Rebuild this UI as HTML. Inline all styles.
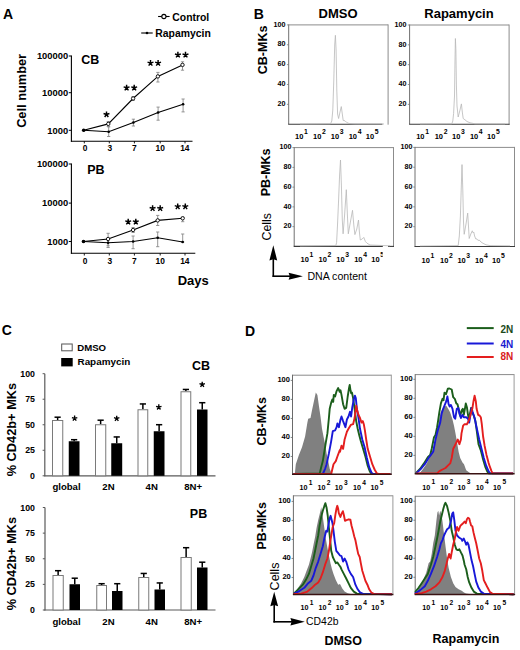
<!DOCTYPE html>
<html><head><meta charset="utf-8"><style>
html,body{margin:0;padding:0;background:#fff;width:520px;height:650px;overflow:hidden}
svg{display:block}
text{font-family:"Liberation Sans",sans-serif}
</style></head><body>
<svg width="520" height="650" viewBox="0 0 520 650">
<rect width="520" height="650" fill="#fff"/>
<text x="3" y="19" font-size="14" font-weight="bold" text-anchor="start" fill="#000" >A</text>
<text x="253.7" y="19.4" font-size="14" font-weight="bold" text-anchor="start" fill="#000" >B</text>
<text x="1.8" y="334.5" font-size="14" font-weight="bold" text-anchor="start" fill="#000" >C</text>
<text x="245" y="336.3" font-size="14" font-weight="bold" text-anchor="start" fill="#000" >D</text>
<line x1="71.4" y1="55.4" x2="71.4" y2="141.7" stroke="#000" stroke-width="1.1"/>
<line x1="70.9" y1="141.2" x2="192.5" y2="141.2" stroke="#000" stroke-width="1.1"/>
<line x1="68.80000000000001" y1="56.0" x2="71.4" y2="56.0" stroke="#000" stroke-width="1"/>
<text x="68.2" y="59.3" font-size="9.4" font-weight="bold" text-anchor="end" fill="#000" >100000</text>
<line x1="68.80000000000001" y1="92.7" x2="71.4" y2="92.7" stroke="#000" stroke-width="1"/>
<text x="68.2" y="96.0" font-size="9.4" font-weight="bold" text-anchor="end" fill="#000" >10000</text>
<line x1="68.80000000000001" y1="130.3" x2="71.4" y2="130.3" stroke="#000" stroke-width="1"/>
<text x="68.2" y="133.60000000000002" font-size="9.4" font-weight="bold" text-anchor="end" fill="#000" >1000</text>
<line x1="84.3" y1="141.2" x2="84.3" y2="143.39999999999998" stroke="#000" stroke-width="0.9"/>
<line x1="109.3" y1="141.2" x2="109.3" y2="143.39999999999998" stroke="#000" stroke-width="0.9"/>
<line x1="134.4" y1="141.2" x2="134.4" y2="143.39999999999998" stroke="#000" stroke-width="0.9"/>
<line x1="160.2" y1="141.2" x2="160.2" y2="143.39999999999998" stroke="#000" stroke-width="0.9"/>
<line x1="185.0" y1="141.2" x2="185.0" y2="143.39999999999998" stroke="#000" stroke-width="0.9"/>
<text x="85" y="151.4" font-size="8.4" font-weight="bold" text-anchor="middle" fill="#000" >0</text>
<text x="109.8" y="151.4" font-size="8.4" font-weight="bold" text-anchor="middle" fill="#000" >3</text>
<text x="134.4" y="151.4" font-size="8.4" font-weight="bold" text-anchor="middle" fill="#000" >7</text>
<text x="160.2" y="151.4" font-size="8.4" font-weight="bold" text-anchor="middle" fill="#000" >10</text>
<text x="184.8" y="151.4" font-size="8.4" font-weight="bold" text-anchor="middle" fill="#000" >14</text>
<text x="81.2" y="63.7" font-size="12.5" font-weight="bold" text-anchor="start" fill="#000" >CB</text>
<line x1="108.3" y1="121.5" x2="108.3" y2="126.5" stroke="#8a8a8a" stroke-width="0.9"/>
<line x1="106.7" y1="121.5" x2="109.89999999999999" y2="121.5" stroke="#8a8a8a" stroke-width="0.9"/>
<line x1="106.7" y1="126.5" x2="109.89999999999999" y2="126.5" stroke="#8a8a8a" stroke-width="0.9"/>
<line x1="133.1" y1="96.5" x2="133.1" y2="100.5" stroke="#8a8a8a" stroke-width="0.9"/>
<line x1="131.5" y1="96.5" x2="134.7" y2="96.5" stroke="#8a8a8a" stroke-width="0.9"/>
<line x1="131.5" y1="100.5" x2="134.7" y2="100.5" stroke="#8a8a8a" stroke-width="0.9"/>
<line x1="157.9" y1="72.4" x2="157.9" y2="82" stroke="#8a8a8a" stroke-width="0.9"/>
<line x1="156.3" y1="72.4" x2="159.5" y2="72.4" stroke="#8a8a8a" stroke-width="0.9"/>
<line x1="156.3" y1="82" x2="159.5" y2="82" stroke="#8a8a8a" stroke-width="0.9"/>
<line x1="182.5" y1="61.8" x2="182.5" y2="70.2" stroke="#8a8a8a" stroke-width="0.9"/>
<line x1="180.9" y1="61.8" x2="184.1" y2="61.8" stroke="#8a8a8a" stroke-width="0.9"/>
<line x1="180.9" y1="70.2" x2="184.1" y2="70.2" stroke="#8a8a8a" stroke-width="0.9"/>
<line x1="108.7" y1="126.9" x2="108.7" y2="136.5" stroke="#8a8a8a" stroke-width="0.9"/>
<line x1="107.10000000000001" y1="126.9" x2="110.3" y2="126.9" stroke="#8a8a8a" stroke-width="0.9"/>
<line x1="107.10000000000001" y1="136.5" x2="110.3" y2="136.5" stroke="#8a8a8a" stroke-width="0.9"/>
<line x1="133.4" y1="119.2" x2="133.4" y2="126" stroke="#8a8a8a" stroke-width="0.9"/>
<line x1="131.8" y1="119.2" x2="135.0" y2="119.2" stroke="#8a8a8a" stroke-width="0.9"/>
<line x1="131.8" y1="126" x2="135.0" y2="126" stroke="#8a8a8a" stroke-width="0.9"/>
<line x1="158.1" y1="107.1" x2="158.1" y2="120.2" stroke="#8a8a8a" stroke-width="0.9"/>
<line x1="156.5" y1="107.1" x2="159.7" y2="107.1" stroke="#8a8a8a" stroke-width="0.9"/>
<line x1="156.5" y1="120.2" x2="159.7" y2="120.2" stroke="#8a8a8a" stroke-width="0.9"/>
<line x1="183.1" y1="99" x2="183.1" y2="111.9" stroke="#8a8a8a" stroke-width="0.9"/>
<line x1="181.5" y1="99" x2="184.7" y2="99" stroke="#8a8a8a" stroke-width="0.9"/>
<line x1="181.5" y1="111.9" x2="184.7" y2="111.9" stroke="#8a8a8a" stroke-width="0.9"/>
<polyline points="83.70,130.20 108.70,131.70 133.40,122.50 158.10,112.50 183.10,104.20" fill="none" stroke="#000" stroke-width="1.1" />
<polyline points="83.70,130.20 108.30,123.90 133.10,98.50 157.90,76.40 182.50,64.90" fill="none" stroke="#000" stroke-width="1.1" />
<circle cx="83.7" cy="130.2" r="1.3" fill="#000"/>
<circle cx="108.7" cy="131.7" r="1.3" fill="#000"/>
<circle cx="133.4" cy="122.5" r="1.3" fill="#000"/>
<circle cx="158.1" cy="112.5" r="1.3" fill="#000"/>
<circle cx="183.1" cy="104.2" r="1.3" fill="#000"/>
<circle cx="108.3" cy="123.9" r="1.7" fill="#fff" stroke="#000" stroke-width="0.9"/>
<circle cx="133.1" cy="98.5" r="1.7" fill="#fff" stroke="#000" stroke-width="0.9"/>
<circle cx="157.9" cy="76.4" r="1.7" fill="#fff" stroke="#000" stroke-width="0.9"/>
<circle cx="182.5" cy="64.9" r="1.7" fill="#fff" stroke="#000" stroke-width="0.9"/>
<circle cx="83.7" cy="130.2" r="1.8" fill="#000"/>
<path d="M106.50,114.50 l0.00,-3.10 M106.50,114.50 l2.95,-0.96 M106.50,114.50 l1.82,2.51 M106.50,114.50 l-1.82,2.51 M106.50,114.50 l-2.95,-0.96" stroke="#000" stroke-width="1.45" fill="none"/>
<path d="M126.60,87.80 l0.00,-3.10 M126.60,87.80 l2.95,-0.96 M126.60,87.80 l1.82,2.51 M126.60,87.80 l-1.82,2.51 M126.60,87.80 l-2.95,-0.96" stroke="#000" stroke-width="1.45" fill="none"/>
<path d="M134.20,87.80 l0.00,-3.10 M134.20,87.80 l2.95,-0.96 M134.20,87.80 l1.82,2.51 M134.20,87.80 l-1.82,2.51 M134.20,87.80 l-2.95,-0.96" stroke="#000" stroke-width="1.45" fill="none"/>
<path d="M150.50,63.10 l0.00,-3.10 M150.50,63.10 l2.95,-0.96 M150.50,63.10 l1.82,2.51 M150.50,63.10 l-1.82,2.51 M150.50,63.10 l-2.95,-0.96" stroke="#000" stroke-width="1.45" fill="none"/>
<path d="M158.10,63.10 l0.00,-3.10 M158.10,63.10 l2.95,-0.96 M158.10,63.10 l1.82,2.51 M158.10,63.10 l-1.82,2.51 M158.10,63.10 l-2.95,-0.96" stroke="#000" stroke-width="1.45" fill="none"/>
<path d="M177.90,54.90 l0.00,-3.10 M177.90,54.90 l2.95,-0.96 M177.90,54.90 l1.82,2.51 M177.90,54.90 l-1.82,2.51 M177.90,54.90 l-2.95,-0.96" stroke="#000" stroke-width="1.45" fill="none"/>
<path d="M185.50,54.90 l0.00,-3.10 M185.50,54.90 l2.95,-0.96 M185.50,54.90 l1.82,2.51 M185.50,54.90 l-1.82,2.51 M185.50,54.90 l-2.95,-0.96" stroke="#000" stroke-width="1.45" fill="none"/>
<line x1="71.4" y1="163.5" x2="71.4" y2="253.8" stroke="#000" stroke-width="1.1"/>
<line x1="70.9" y1="253.3" x2="195.3" y2="253.3" stroke="#000" stroke-width="1.1"/>
<line x1="68.80000000000001" y1="164.0" x2="71.4" y2="164.0" stroke="#000" stroke-width="1"/>
<text x="68.2" y="167.3" font-size="9.4" font-weight="bold" text-anchor="end" fill="#000" >100000</text>
<line x1="68.80000000000001" y1="203.1" x2="71.4" y2="203.1" stroke="#000" stroke-width="1"/>
<text x="68.2" y="206.4" font-size="9.4" font-weight="bold" text-anchor="end" fill="#000" >10000</text>
<line x1="68.80000000000001" y1="241.5" x2="71.4" y2="241.5" stroke="#000" stroke-width="1"/>
<text x="68.2" y="244.8" font-size="9.4" font-weight="bold" text-anchor="end" fill="#000" >1000</text>
<line x1="84.3" y1="253.3" x2="84.3" y2="255.5" stroke="#000" stroke-width="0.9"/>
<line x1="109.3" y1="253.3" x2="109.3" y2="255.5" stroke="#000" stroke-width="0.9"/>
<line x1="134.4" y1="253.3" x2="134.4" y2="255.5" stroke="#000" stroke-width="0.9"/>
<line x1="160.2" y1="253.3" x2="160.2" y2="255.5" stroke="#000" stroke-width="0.9"/>
<line x1="185.0" y1="253.3" x2="185.0" y2="255.5" stroke="#000" stroke-width="0.9"/>
<text x="85" y="263.8" font-size="8.4" font-weight="bold" text-anchor="middle" fill="#000" >0</text>
<text x="109.8" y="263.8" font-size="8.4" font-weight="bold" text-anchor="middle" fill="#000" >3</text>
<text x="134.4" y="263.8" font-size="8.4" font-weight="bold" text-anchor="middle" fill="#000" >7</text>
<text x="160.2" y="263.8" font-size="8.4" font-weight="bold" text-anchor="middle" fill="#000" >10</text>
<text x="184.8" y="263.8" font-size="8.4" font-weight="bold" text-anchor="middle" fill="#000" >14</text>
<text x="87.2" y="173.7" font-size="12.5" font-weight="bold" text-anchor="start" fill="#000" >PB</text>
<line x1="108.1" y1="233.3" x2="108.1" y2="245.8" stroke="#8a8a8a" stroke-width="0.9"/>
<line x1="106.5" y1="233.3" x2="109.69999999999999" y2="233.3" stroke="#8a8a8a" stroke-width="0.9"/>
<line x1="106.5" y1="245.8" x2="109.69999999999999" y2="245.8" stroke="#8a8a8a" stroke-width="0.9"/>
<line x1="133.1" y1="227.5" x2="133.1" y2="232.5" stroke="#8a8a8a" stroke-width="0.9"/>
<line x1="131.5" y1="227.5" x2="134.7" y2="227.5" stroke="#8a8a8a" stroke-width="0.9"/>
<line x1="131.5" y1="232.5" x2="134.7" y2="232.5" stroke="#8a8a8a" stroke-width="0.9"/>
<line x1="157.7" y1="215.4" x2="157.7" y2="225.5" stroke="#8a8a8a" stroke-width="0.9"/>
<line x1="156.1" y1="215.4" x2="159.29999999999998" y2="215.4" stroke="#8a8a8a" stroke-width="0.9"/>
<line x1="156.1" y1="225.5" x2="159.29999999999998" y2="225.5" stroke="#8a8a8a" stroke-width="0.9"/>
<line x1="182.7" y1="217" x2="182.7" y2="221.7" stroke="#8a8a8a" stroke-width="0.9"/>
<line x1="181.1" y1="217" x2="184.29999999999998" y2="217" stroke="#8a8a8a" stroke-width="0.9"/>
<line x1="181.1" y1="221.7" x2="184.29999999999998" y2="221.7" stroke="#8a8a8a" stroke-width="0.9"/>
<line x1="108.1" y1="238.5" x2="108.1" y2="247.5" stroke="#8a8a8a" stroke-width="0.9"/>
<line x1="106.5" y1="238.5" x2="109.69999999999999" y2="238.5" stroke="#8a8a8a" stroke-width="0.9"/>
<line x1="106.5" y1="247.5" x2="109.69999999999999" y2="247.5" stroke="#8a8a8a" stroke-width="0.9"/>
<line x1="133.1" y1="236" x2="133.1" y2="248.7" stroke="#8a8a8a" stroke-width="0.9"/>
<line x1="131.5" y1="236" x2="134.7" y2="236" stroke="#8a8a8a" stroke-width="0.9"/>
<line x1="131.5" y1="248.7" x2="134.7" y2="248.7" stroke="#8a8a8a" stroke-width="0.9"/>
<line x1="157.7" y1="232" x2="157.7" y2="246.7" stroke="#8a8a8a" stroke-width="0.9"/>
<line x1="156.1" y1="232" x2="159.29999999999998" y2="232" stroke="#8a8a8a" stroke-width="0.9"/>
<line x1="156.1" y1="246.7" x2="159.29999999999998" y2="246.7" stroke="#8a8a8a" stroke-width="0.9"/>
<line x1="182.7" y1="234" x2="182.7" y2="242" stroke="#8a8a8a" stroke-width="0.9"/>
<line x1="181.1" y1="234" x2="184.29999999999998" y2="234" stroke="#8a8a8a" stroke-width="0.9"/>
<line x1="181.1" y1="242" x2="184.29999999999998" y2="242" stroke="#8a8a8a" stroke-width="0.9"/>
<polyline points="83.50,241.50 108.10,242.70 133.10,241.50 157.70,237.70 182.70,242.00" fill="none" stroke="#000" stroke-width="1.1" />
<polyline points="83.50,241.50 108.10,239.00 133.10,230.00 157.70,220.40 182.70,218.30" fill="none" stroke="#000" stroke-width="1.1" />
<circle cx="83.5" cy="241.5" r="1.3" fill="#000"/>
<circle cx="108.1" cy="242.7" r="1.3" fill="#000"/>
<circle cx="133.1" cy="241.5" r="1.3" fill="#000"/>
<circle cx="157.7" cy="237.7" r="1.3" fill="#000"/>
<circle cx="182.7" cy="242.0" r="1.3" fill="#000"/>
<circle cx="108.1" cy="239.0" r="1.7" fill="#fff" stroke="#000" stroke-width="0.9"/>
<circle cx="133.1" cy="230.0" r="1.7" fill="#fff" stroke="#000" stroke-width="0.9"/>
<circle cx="157.7" cy="220.4" r="1.7" fill="#fff" stroke="#000" stroke-width="0.9"/>
<circle cx="182.7" cy="218.3" r="1.7" fill="#fff" stroke="#000" stroke-width="0.9"/>
<circle cx="83.5" cy="241.5" r="1.8" fill="#000"/>
<path d="M128.20,221.80 l0.00,-3.10 M128.20,221.80 l2.95,-0.96 M128.20,221.80 l1.82,2.51 M128.20,221.80 l-1.82,2.51 M128.20,221.80 l-2.95,-0.96" stroke="#000" stroke-width="1.45" fill="none"/>
<path d="M135.80,221.80 l0.00,-3.10 M135.80,221.80 l2.95,-0.96 M135.80,221.80 l1.82,2.51 M135.80,221.80 l-1.82,2.51 M135.80,221.80 l-2.95,-0.96" stroke="#000" stroke-width="1.45" fill="none"/>
<path d="M152.60,208.40 l0.00,-3.10 M152.60,208.40 l2.95,-0.96 M152.60,208.40 l1.82,2.51 M152.60,208.40 l-1.82,2.51 M152.60,208.40 l-2.95,-0.96" stroke="#000" stroke-width="1.45" fill="none"/>
<path d="M160.20,208.40 l0.00,-3.10 M160.20,208.40 l2.95,-0.96 M160.20,208.40 l1.82,2.51 M160.20,208.40 l-1.82,2.51 M160.20,208.40 l-2.95,-0.96" stroke="#000" stroke-width="1.45" fill="none"/>
<path d="M177.70,206.60 l0.00,-3.10 M177.70,206.60 l2.95,-0.96 M177.70,206.60 l1.82,2.51 M177.70,206.60 l-1.82,2.51 M177.70,206.60 l-2.95,-0.96" stroke="#000" stroke-width="1.45" fill="none"/>
<path d="M185.30,206.60 l0.00,-3.10 M185.30,206.60 l2.95,-0.96 M185.30,206.60 l1.82,2.51 M185.30,206.60 l-1.82,2.51 M185.30,206.60 l-2.95,-0.96" stroke="#000" stroke-width="1.45" fill="none"/>
<text transform="translate(25.6,90.9) rotate(-90)" font-size="12.8" font-weight="bold" text-anchor="middle" fill="#000" >Cell number</text>
<text x="177.7" y="284.9" font-size="13" font-weight="bold" text-anchor="start" fill="#000" >Days</text>
<line x1="158.1" y1="16.5" x2="169.6" y2="16.5" stroke="#000" stroke-width="1.1"/>
<circle cx="163.9" cy="16.5" r="2.1" fill="#fff" stroke="#000" stroke-width="1.1"/>
<text x="172.3" y="20.6" font-size="10.4" font-weight="bold" text-anchor="start" fill="#000" >Control</text>
<line x1="141.2" y1="33" x2="152.7" y2="33" stroke="#000" stroke-width="1.1"/>
<circle cx="147" cy="33" r="1.3" fill="#000"/>
<text x="155.3" y="36.9" font-size="10.4" font-weight="bold" text-anchor="start" fill="#000" >Rapamycin</text>
<line x1="288.7" y1="24.9" x2="388.1" y2="24.9" stroke="#8c8c8c" stroke-width="1"/>
<line x1="388.1" y1="24.4" x2="388.1" y2="124.7" stroke="#8c8c8c" stroke-width="1"/>
<line x1="288.7" y1="24.4" x2="288.7" y2="124.2" stroke="#707070" stroke-width="1"/>
<line x1="288.2" y1="124.2" x2="382.4" y2="124.2" stroke="#3a3a3a" stroke-width="1.1"/>
<line x1="286.9" y1="24.89999999999999" x2="288.7" y2="24.89999999999999" stroke="#7a7a7a" stroke-width="0.8"/>
<text x="285.4" y="26.59999999999999" font-size="7.2" font-weight="bold" text-anchor="end" fill="#000" >100</text>
<line x1="286.9" y1="44.75999999999999" x2="288.7" y2="44.75999999999999" stroke="#7a7a7a" stroke-width="0.8"/>
<text x="285.4" y="46.459999999999994" font-size="7.2" font-weight="bold" text-anchor="end" fill="#000" >80</text>
<line x1="286.9" y1="64.61999999999999" x2="288.7" y2="64.61999999999999" stroke="#7a7a7a" stroke-width="0.8"/>
<text x="285.4" y="66.32" font-size="7.2" font-weight="bold" text-anchor="end" fill="#000" >60</text>
<line x1="286.9" y1="84.47999999999999" x2="288.7" y2="84.47999999999999" stroke="#7a7a7a" stroke-width="0.8"/>
<text x="285.4" y="86.17999999999999" font-size="7.2" font-weight="bold" text-anchor="end" fill="#000" >40</text>
<line x1="286.9" y1="104.34" x2="288.7" y2="104.34" stroke="#7a7a7a" stroke-width="0.8"/>
<text x="285.4" y="106.04" font-size="7.2" font-weight="bold" text-anchor="end" fill="#000" >20</text>
<text x="295.0" y="139.2" font-size="7.5" font-weight="bold" text-anchor="start" fill="#000" >10</text>
<text x="303.94" y="134.2" font-size="6.8" font-weight="bold" text-anchor="start" fill="#000" >1</text>
<text x="313.0" y="139.2" font-size="7.5" font-weight="bold" text-anchor="start" fill="#000" >10</text>
<text x="321.94" y="134.2" font-size="6.8" font-weight="bold" text-anchor="start" fill="#000" >2</text>
<text x="330.8" y="139.2" font-size="7.5" font-weight="bold" text-anchor="start" fill="#000" >10</text>
<text x="339.74" y="134.2" font-size="6.8" font-weight="bold" text-anchor="start" fill="#000" >3</text>
<text x="348.7" y="139.2" font-size="7.5" font-weight="bold" text-anchor="start" fill="#000" >10</text>
<text x="357.64" y="134.2" font-size="6.8" font-weight="bold" text-anchor="start" fill="#000" >4</text>
<text x="365.79999999999995" y="139.2" font-size="7.5" font-weight="bold" text-anchor="start" fill="#000" >10</text>
<text x="374.73999999999995" y="134.2" font-size="6.8" font-weight="bold" text-anchor="start" fill="#000" >5</text>
<line x1="409.6" y1="25.0" x2="509.1" y2="25.0" stroke="#8c8c8c" stroke-width="1"/>
<line x1="509.1" y1="24.5" x2="509.1" y2="124.7" stroke="#8c8c8c" stroke-width="1"/>
<line x1="409.6" y1="24.5" x2="409.6" y2="124.2" stroke="#707070" stroke-width="1"/>
<line x1="409.1" y1="124.2" x2="509.6" y2="124.2" stroke="#3a3a3a" stroke-width="1.1"/>
<line x1="407.8" y1="25.0" x2="409.6" y2="25.0" stroke="#7a7a7a" stroke-width="0.8"/>
<text x="406.4" y="26.7" font-size="7.2" font-weight="bold" text-anchor="end" fill="#000" >100</text>
<line x1="407.8" y1="44.84" x2="409.6" y2="44.84" stroke="#7a7a7a" stroke-width="0.8"/>
<text x="406.4" y="46.540000000000006" font-size="7.2" font-weight="bold" text-anchor="end" fill="#000" >80</text>
<line x1="407.8" y1="64.68" x2="409.6" y2="64.68" stroke="#7a7a7a" stroke-width="0.8"/>
<text x="406.4" y="66.38000000000001" font-size="7.2" font-weight="bold" text-anchor="end" fill="#000" >60</text>
<line x1="407.8" y1="84.52000000000001" x2="409.6" y2="84.52000000000001" stroke="#7a7a7a" stroke-width="0.8"/>
<text x="406.4" y="86.22000000000001" font-size="7.2" font-weight="bold" text-anchor="end" fill="#000" >40</text>
<line x1="407.8" y1="104.36" x2="409.6" y2="104.36" stroke="#7a7a7a" stroke-width="0.8"/>
<text x="406.4" y="106.06" font-size="7.2" font-weight="bold" text-anchor="end" fill="#000" >20</text>
<text x="416.20000000000005" y="139.2" font-size="7.5" font-weight="bold" text-anchor="start" fill="#000" >10</text>
<text x="425.14000000000004" y="134.2" font-size="6.8" font-weight="bold" text-anchor="start" fill="#000" >1</text>
<text x="434.70000000000005" y="139.2" font-size="7.5" font-weight="bold" text-anchor="start" fill="#000" >10</text>
<text x="443.64000000000004" y="134.2" font-size="6.8" font-weight="bold" text-anchor="start" fill="#000" >2</text>
<text x="452.0" y="139.2" font-size="7.5" font-weight="bold" text-anchor="start" fill="#000" >10</text>
<text x="460.94" y="134.2" font-size="6.8" font-weight="bold" text-anchor="start" fill="#000" >3</text>
<text x="469.90000000000003" y="139.2" font-size="7.5" font-weight="bold" text-anchor="start" fill="#000" >10</text>
<text x="478.84000000000003" y="134.2" font-size="6.8" font-weight="bold" text-anchor="start" fill="#000" >4</text>
<text x="487.0" y="139.2" font-size="7.5" font-weight="bold" text-anchor="start" fill="#000" >10</text>
<text x="495.94" y="134.2" font-size="6.8" font-weight="bold" text-anchor="start" fill="#000" >5</text>
<line x1="294.2" y1="147.6" x2="393.5" y2="147.6" stroke="#8c8c8c" stroke-width="1"/>
<line x1="393.5" y1="147.1" x2="393.5" y2="246.9" stroke="#8c8c8c" stroke-width="1"/>
<line x1="294.2" y1="147.1" x2="294.2" y2="246.4" stroke="#707070" stroke-width="1"/>
<line x1="293.7" y1="246.4" x2="382.8" y2="246.4" stroke="#3a3a3a" stroke-width="1.1"/>
<line x1="388" y1="246.4" x2="394" y2="246.4" stroke="#3a3a3a" stroke-width="1.1"/>
<line x1="292.4" y1="147.6" x2="294.2" y2="147.6" stroke="#7a7a7a" stroke-width="0.8"/>
<text x="291.4" y="149.29999999999998" font-size="7.2" font-weight="bold" text-anchor="end" fill="#000" >100</text>
<line x1="292.4" y1="167.36" x2="294.2" y2="167.36" stroke="#7a7a7a" stroke-width="0.8"/>
<text x="291.4" y="169.06" font-size="7.2" font-weight="bold" text-anchor="end" fill="#000" >80</text>
<line x1="292.4" y1="187.12" x2="294.2" y2="187.12" stroke="#7a7a7a" stroke-width="0.8"/>
<text x="291.4" y="188.82" font-size="7.2" font-weight="bold" text-anchor="end" fill="#000" >60</text>
<line x1="292.4" y1="206.88" x2="294.2" y2="206.88" stroke="#7a7a7a" stroke-width="0.8"/>
<text x="291.4" y="208.57999999999998" font-size="7.2" font-weight="bold" text-anchor="end" fill="#000" >40</text>
<line x1="292.4" y1="226.64000000000001" x2="294.2" y2="226.64000000000001" stroke="#7a7a7a" stroke-width="0.8"/>
<text x="291.4" y="228.34" font-size="7.2" font-weight="bold" text-anchor="end" fill="#000" >20</text>
<text x="300.5" y="262.2" font-size="7.5" font-weight="bold" text-anchor="start" fill="#000" >10</text>
<text x="309.44" y="257.2" font-size="6.8" font-weight="bold" text-anchor="start" fill="#000" >1</text>
<text x="318.5" y="262.2" font-size="7.5" font-weight="bold" text-anchor="start" fill="#000" >10</text>
<text x="327.44" y="257.2" font-size="6.8" font-weight="bold" text-anchor="start" fill="#000" >2</text>
<text x="336.3" y="262.2" font-size="7.5" font-weight="bold" text-anchor="start" fill="#000" >10</text>
<text x="345.24" y="257.2" font-size="6.8" font-weight="bold" text-anchor="start" fill="#000" >3</text>
<text x="354.2" y="262.2" font-size="7.5" font-weight="bold" text-anchor="start" fill="#000" >10</text>
<text x="363.14" y="257.2" font-size="6.8" font-weight="bold" text-anchor="start" fill="#000" >4</text>
<text x="371.29999999999995" y="262.2" font-size="7.5" font-weight="bold" text-anchor="start" fill="#000" >10</text>
<text x="380.23999999999995" y="257.2" font-size="6.8" font-weight="bold" text-anchor="start" fill="#000" >5</text>
<line x1="415.0" y1="147.4" x2="514.5" y2="147.4" stroke="#8c8c8c" stroke-width="1"/>
<line x1="514.5" y1="146.9" x2="514.5" y2="247.0" stroke="#8c8c8c" stroke-width="1"/>
<line x1="415.0" y1="146.9" x2="415.0" y2="246.5" stroke="#707070" stroke-width="1"/>
<line x1="414.5" y1="246.5" x2="515.0" y2="246.5" stroke="#3a3a3a" stroke-width="1.1"/>
<line x1="413.2" y1="147.4" x2="415.0" y2="147.4" stroke="#7a7a7a" stroke-width="0.8"/>
<text x="412.4" y="149.1" font-size="7.2" font-weight="bold" text-anchor="end" fill="#000" >100</text>
<line x1="413.2" y1="167.22" x2="415.0" y2="167.22" stroke="#7a7a7a" stroke-width="0.8"/>
<text x="412.4" y="168.92" font-size="7.2" font-weight="bold" text-anchor="end" fill="#000" >80</text>
<line x1="413.2" y1="187.04" x2="415.0" y2="187.04" stroke="#7a7a7a" stroke-width="0.8"/>
<text x="412.4" y="188.73999999999998" font-size="7.2" font-weight="bold" text-anchor="end" fill="#000" >60</text>
<line x1="413.2" y1="206.86" x2="415.0" y2="206.86" stroke="#7a7a7a" stroke-width="0.8"/>
<text x="412.4" y="208.56" font-size="7.2" font-weight="bold" text-anchor="end" fill="#000" >40</text>
<line x1="413.2" y1="226.68" x2="415.0" y2="226.68" stroke="#7a7a7a" stroke-width="0.8"/>
<text x="412.4" y="228.38" font-size="7.2" font-weight="bold" text-anchor="end" fill="#000" >20</text>
<text x="421.6" y="262.5" font-size="7.5" font-weight="bold" text-anchor="start" fill="#000" >10</text>
<text x="430.54" y="257.5" font-size="6.8" font-weight="bold" text-anchor="start" fill="#000" >1</text>
<text x="440.1" y="262.5" font-size="7.5" font-weight="bold" text-anchor="start" fill="#000" >10</text>
<text x="449.04" y="257.5" font-size="6.8" font-weight="bold" text-anchor="start" fill="#000" >2</text>
<text x="457.4" y="262.5" font-size="7.5" font-weight="bold" text-anchor="start" fill="#000" >10</text>
<text x="466.34" y="257.5" font-size="6.8" font-weight="bold" text-anchor="start" fill="#000" >3</text>
<text x="475.0" y="262.5" font-size="7.5" font-weight="bold" text-anchor="start" fill="#000" >10</text>
<text x="483.94" y="257.5" font-size="6.8" font-weight="bold" text-anchor="start" fill="#000" >4</text>
<text x="492.1" y="262.5" font-size="7.5" font-weight="bold" text-anchor="start" fill="#000" >10</text>
<text x="501.04" y="257.5" font-size="6.8" font-weight="bold" text-anchor="start" fill="#000" >5</text>
<polyline points="300.00,124.00 330.50,123.80 331.80,121.00 332.80,110.00 333.80,80.00 334.70,45.00 335.40,35.30 336.10,50.00 336.80,90.00 337.60,114.00 338.60,118.50 340.00,112.00 341.30,106.60 342.30,114.00 343.20,120.50 345.00,120.80 346.50,122.30 349.00,123.50 355.00,123.90 384.00,124.00" fill="none" stroke="#b8b8b8" stroke-width="0.8" stroke-linejoin="round"/>
<polyline points="420.00,124.00 451.80,123.80 452.80,121.00 453.60,113.50 454.50,96.00 455.00,60.00 455.40,38.50 455.90,50.00 456.40,85.00 457.00,106.00 458.20,117.00 460.00,110.00 461.40,103.90 462.30,112.00 463.20,118.50 465.00,119.80 467.00,121.50 470.00,122.80 475.00,123.80 505.00,124.00" fill="none" stroke="#b8b8b8" stroke-width="0.8" stroke-linejoin="round"/>
<polyline points="300.00,246.00 335.80,245.60 336.60,242.50 337.50,225.00 338.60,200.00 339.60,175.00 340.50,160.00 341.40,185.00 342.30,220.00 343.10,233.80 344.60,215.00 346.30,189.70 347.40,215.00 348.30,233.80 350.40,222.00 352.50,210.30 353.80,225.00 354.90,234.60 356.80,229.00 358.50,220.00 359.40,232.00 360.30,240.00 362.20,239.00 363.80,237.40 365.40,241.50 367.00,243.20 370.00,245.00 390.00,245.80" fill="none" stroke="#b8b8b8" stroke-width="0.8" stroke-linejoin="round"/>
<polyline points="420.00,246.00 458.20,245.60 459.30,236.00 460.40,216.00 461.20,190.00 462.00,164.60 462.80,190.00 463.50,222.00 464.20,234.30 466.00,224.00 467.70,213.10 468.60,228.00 469.20,238.50 470.80,234.00 472.30,230.80 473.20,233.00 473.80,232.30 474.60,236.00 475.80,239.00 476.90,238.90 478.00,240.50 479.20,240.00 481.00,242.00 483.00,243.30 486.00,244.80 490.00,245.60 510.00,245.80" fill="none" stroke="#b8b8b8" stroke-width="0.8" stroke-linejoin="round"/>
<text transform="translate(266.6,49.9) rotate(-90)" font-size="12.5" font-weight="bold" text-anchor="middle" fill="#000" >CB-MKs</text>
<text transform="translate(270.2,172.4) rotate(-90)" font-size="12.5" font-weight="bold" text-anchor="middle" fill="#000" >PB-MKs</text>
<text x="318.6" y="18.0" font-size="13" font-weight="bold" text-anchor="start" fill="#000" >DMSO</text>
<text x="424.3" y="18.2" font-size="13" font-weight="bold" text-anchor="start" fill="#000" >Rapamycin</text>
<text transform="translate(271.4,226.8) rotate(-90)" font-size="12.4" font-weight="normal" text-anchor="middle" fill="#000" >Cells</text>
<line x1="273.3" y1="276.9" x2="273.3" y2="256" stroke="#000" stroke-width="1.6"/>
<polygon points="273.30,245.30 277.20,260.40 273.30,259.20 269.40,260.40" fill="#000" stroke="none" stroke-width="0"/>
<line x1="272.5" y1="276.2" x2="292" y2="276.2" stroke="#000" stroke-width="1.6"/>
<polygon points="302.90,276.20 288.60,279.70 289.80,276.20 288.60,272.70" fill="#000" stroke="none" stroke-width="0"/>
<text x="307.4" y="279.9" font-size="10.6" font-weight="normal" text-anchor="start" fill="#000" >DNA content</text>
<rect x="382.7" y="248" width="6" height="14" fill="#fff"/>
<line x1="44.8" y1="373.7" x2="44.8" y2="476.3" stroke="#5a5a5a" stroke-width="1.2"/>
<line x1="44.3" y1="475.8" x2="215.5" y2="475.8" stroke="#5a5a5a" stroke-width="1.2"/>
<line x1="42.599999999999994" y1="475.8" x2="44.8" y2="475.8" stroke="#5a5a5a" stroke-width="1"/>
<text x="35.0" y="478.90000000000003" font-size="8.8" font-weight="bold" text-anchor="end" fill="#000" >0</text>
<line x1="42.599999999999994" y1="450.275" x2="44.8" y2="450.275" stroke="#5a5a5a" stroke-width="1"/>
<text x="35.0" y="453.375" font-size="8.8" font-weight="bold" text-anchor="end" fill="#000" >25</text>
<line x1="42.599999999999994" y1="424.75" x2="44.8" y2="424.75" stroke="#5a5a5a" stroke-width="1"/>
<text x="35.0" y="427.85" font-size="8.8" font-weight="bold" text-anchor="end" fill="#000" >50</text>
<line x1="42.599999999999994" y1="399.225" x2="44.8" y2="399.225" stroke="#5a5a5a" stroke-width="1"/>
<text x="35.0" y="402.32500000000005" font-size="8.8" font-weight="bold" text-anchor="end" fill="#000" >75</text>
<line x1="42.599999999999994" y1="373.7" x2="44.8" y2="373.7" stroke="#5a5a5a" stroke-width="1"/>
<text x="35.0" y="376.8" font-size="8.8" font-weight="bold" text-anchor="end" fill="#000" >100</text>
<line x1="57.625" y1="420" x2="57.625" y2="417" stroke="#000" stroke-width="1.5"/>
<line x1="54.525" y1="417.2" x2="60.725" y2="417.2" stroke="#000" stroke-width="1.5"/>
<rect x="52.5" y="420.5" width="10.25" height="55.30000000000001" fill="#fff" stroke="#7a7a7a" stroke-width="1"/>
<line x1="74.125" y1="441.25" x2="74.125" y2="439.5" stroke="#000" stroke-width="1.5"/>
<line x1="71.025" y1="439.7" x2="77.225" y2="439.7" stroke="#000" stroke-width="1.5"/>
<rect x="68.75" y="441.25" width="10.75" height="34.55000000000001" fill="#000"/>
<line x1="100.625" y1="424.25" x2="100.625" y2="420" stroke="#000" stroke-width="1.5"/>
<line x1="97.525" y1="420.2" x2="103.725" y2="420.2" stroke="#000" stroke-width="1.5"/>
<rect x="95.5" y="424.75" width="10.25" height="51.05000000000001" fill="#fff" stroke="#7a7a7a" stroke-width="1"/>
<line x1="116.725" y1="443.25" x2="116.725" y2="436.75" stroke="#000" stroke-width="1.5"/>
<line x1="113.625" y1="436.95" x2="119.82499999999999" y2="436.95" stroke="#000" stroke-width="1.5"/>
<rect x="111.25" y="443.25" width="10.950000000000003" height="32.55000000000001" fill="#000"/>
<line x1="142.875" y1="409.25" x2="142.875" y2="403.75" stroke="#000" stroke-width="1.5"/>
<line x1="139.775" y1="403.95" x2="145.975" y2="403.95" stroke="#000" stroke-width="1.5"/>
<rect x="138.0" y="409.75" width="9.75" height="66.05000000000001" fill="#fff" stroke="#7a7a7a" stroke-width="1"/>
<line x1="159.125" y1="431.25" x2="159.125" y2="424.5" stroke="#000" stroke-width="1.5"/>
<line x1="156.025" y1="424.7" x2="162.225" y2="424.7" stroke="#000" stroke-width="1.5"/>
<rect x="153.75" y="431.25" width="10.75" height="44.55000000000001" fill="#000"/>
<line x1="185.875" y1="391.25" x2="185.875" y2="389.25" stroke="#000" stroke-width="1.5"/>
<line x1="182.775" y1="389.45" x2="188.975" y2="389.45" stroke="#000" stroke-width="1.5"/>
<rect x="181.0" y="391.75" width="9.75" height="84.05000000000001" fill="#fff" stroke="#7a7a7a" stroke-width="1"/>
<line x1="202.25" y1="409.5" x2="202.25" y2="402.5" stroke="#000" stroke-width="1.5"/>
<line x1="199.15" y1="402.7" x2="205.35" y2="402.7" stroke="#000" stroke-width="1.5"/>
<rect x="197" y="409.5" width="10.5" height="66.30000000000001" fill="#000"/>
<path d="M74.60,418.40 l0.00,-2.85 M74.60,418.40 l2.71,-0.88 M74.60,418.40 l1.68,2.31 M74.60,418.40 l-1.68,2.31 M74.60,418.40 l-2.71,-0.88" stroke="#000" stroke-width="1.35" fill="none"/>
<path d="M116.70,418.60 l0.00,-2.85 M116.70,418.60 l2.71,-0.88 M116.70,418.60 l1.68,2.31 M116.70,418.60 l-1.68,2.31 M116.70,418.60 l-2.71,-0.88" stroke="#000" stroke-width="1.35" fill="none"/>
<path d="M158.80,407.20 l0.00,-2.85 M158.80,407.20 l2.71,-0.88 M158.80,407.20 l1.68,2.31 M158.80,407.20 l-1.68,2.31 M158.80,407.20 l-2.71,-0.88" stroke="#000" stroke-width="1.35" fill="none"/>
<path d="M202.20,384.50 l0.00,-2.85 M202.20,384.50 l2.71,-0.88 M202.20,384.50 l1.68,2.31 M202.20,384.50 l-1.68,2.31 M202.20,384.50 l-2.71,-0.88" stroke="#000" stroke-width="1.35" fill="none"/>
<text x="192" y="370" font-size="12.5" font-weight="bold" text-anchor="start" fill="#000" >CB</text>
<text x="66.5" y="490.3" font-size="9.6" font-weight="bold" text-anchor="middle" fill="#000" >global</text>
<text x="108.5" y="490.3" font-size="9.6" font-weight="bold" text-anchor="middle" fill="#000" >2N</text>
<text x="151.7" y="490.3" font-size="9.6" font-weight="bold" text-anchor="middle" fill="#000" >4N</text>
<text x="193.2" y="490.3" font-size="9.6" font-weight="bold" text-anchor="middle" fill="#000" >8N+</text>
<line x1="45.0" y1="507.5" x2="45.0" y2="610.5" stroke="#5a5a5a" stroke-width="1.2"/>
<line x1="44.5" y1="610.0" x2="215.5" y2="610.0" stroke="#5a5a5a" stroke-width="1.2"/>
<line x1="42.8" y1="610.0" x2="45.0" y2="610.0" stroke="#5a5a5a" stroke-width="1"/>
<text x="35.0" y="613.1" font-size="8.8" font-weight="bold" text-anchor="end" fill="#000" >0</text>
<line x1="42.8" y1="584.375" x2="45.0" y2="584.375" stroke="#5a5a5a" stroke-width="1"/>
<text x="35.0" y="587.475" font-size="8.8" font-weight="bold" text-anchor="end" fill="#000" >25</text>
<line x1="42.8" y1="558.75" x2="45.0" y2="558.75" stroke="#5a5a5a" stroke-width="1"/>
<text x="35.0" y="561.85" font-size="8.8" font-weight="bold" text-anchor="end" fill="#000" >50</text>
<line x1="42.8" y1="533.125" x2="45.0" y2="533.125" stroke="#5a5a5a" stroke-width="1"/>
<text x="35.0" y="536.225" font-size="8.8" font-weight="bold" text-anchor="end" fill="#000" >75</text>
<line x1="42.8" y1="507.5" x2="45.0" y2="507.5" stroke="#5a5a5a" stroke-width="1"/>
<text x="35.0" y="510.6" font-size="8.8" font-weight="bold" text-anchor="end" fill="#000" >100</text>
<line x1="58.125" y1="575" x2="58.125" y2="570.5" stroke="#000" stroke-width="1.5"/>
<line x1="55.025" y1="570.7" x2="61.225" y2="570.7" stroke="#000" stroke-width="1.5"/>
<rect x="53.0" y="575.5" width="10.25" height="34.5" fill="#fff" stroke="#7a7a7a" stroke-width="1"/>
<line x1="74.75" y1="584.25" x2="74.75" y2="578" stroke="#000" stroke-width="1.5"/>
<line x1="71.65" y1="578.2" x2="77.85" y2="578.2" stroke="#000" stroke-width="1.5"/>
<rect x="69.5" y="584.25" width="10.5" height="25.75" fill="#000"/>
<line x1="101.625" y1="585" x2="101.625" y2="583.5" stroke="#000" stroke-width="1.5"/>
<line x1="98.525" y1="583.7" x2="104.725" y2="583.7" stroke="#000" stroke-width="1.5"/>
<rect x="96.75" y="585.5" width="9.75" height="24.5" fill="#fff" stroke="#7a7a7a" stroke-width="1"/>
<line x1="117.25" y1="591" x2="117.25" y2="583.5" stroke="#000" stroke-width="1.5"/>
<line x1="114.15" y1="583.7" x2="120.35" y2="583.7" stroke="#000" stroke-width="1.5"/>
<rect x="112" y="591" width="10.5" height="19.0" fill="#000"/>
<line x1="143.75" y1="577" x2="143.75" y2="573.25" stroke="#000" stroke-width="1.5"/>
<line x1="140.65" y1="573.45" x2="146.85" y2="573.45" stroke="#000" stroke-width="1.5"/>
<rect x="138.75" y="577.5" width="10.0" height="32.5" fill="#fff" stroke="#7a7a7a" stroke-width="1"/>
<line x1="159.75" y1="589.5" x2="159.75" y2="582.75" stroke="#000" stroke-width="1.5"/>
<line x1="156.65" y1="582.95" x2="162.85" y2="582.95" stroke="#000" stroke-width="1.5"/>
<rect x="154.5" y="589.5" width="10.5" height="20.5" fill="#000"/>
<line x1="186.125" y1="557" x2="186.125" y2="547.5" stroke="#000" stroke-width="1.5"/>
<line x1="183.025" y1="547.7" x2="189.225" y2="547.7" stroke="#000" stroke-width="1.5"/>
<rect x="181.0" y="557.5" width="10.25" height="52.5" fill="#fff" stroke="#7a7a7a" stroke-width="1"/>
<line x1="202.25" y1="567.5" x2="202.25" y2="562" stroke="#000" stroke-width="1.5"/>
<line x1="199.15" y1="562.2" x2="205.35" y2="562.2" stroke="#000" stroke-width="1.5"/>
<rect x="197" y="567.5" width="10.5" height="42.5" fill="#000"/>
<text x="189.8" y="518" font-size="12.5" font-weight="bold" text-anchor="start" fill="#000" >PB</text>
<text x="66.5" y="625.2" font-size="9.6" font-weight="bold" text-anchor="middle" fill="#000" >global</text>
<text x="108.5" y="625.2" font-size="9.6" font-weight="bold" text-anchor="middle" fill="#000" >2N</text>
<text x="151.7" y="625.2" font-size="9.6" font-weight="bold" text-anchor="middle" fill="#000" >4N</text>
<text x="193.2" y="625.2" font-size="9.6" font-weight="bold" text-anchor="middle" fill="#000" >8N+</text>
<text transform="translate(15.6,429.6) rotate(-90)" font-size="12.8" font-weight="bold" text-anchor="middle" fill="#000" >% CD42b+ MKs</text>
<text transform="translate(16.2,563.6) rotate(-90)" font-size="12.8" font-weight="bold" text-anchor="middle" fill="#000" >% CD42b+ MKs</text>
<rect x="61.7" y="344" width="10.5" height="6.8" fill="#fff" stroke="#555" stroke-width="1"/>
<text x="77.3" y="351.2" font-size="9.6" font-weight="bold" text-anchor="start" fill="#000" >DMSO</text>
<rect x="61.2" y="358" width="11.5" height="8.4" fill="#000"/>
<text x="77.5" y="364.9" font-size="9.9" font-weight="bold" text-anchor="start" fill="#000" >Rapamycin</text>
<line x1="292.5" y1="375.2" x2="391.3" y2="375.2" stroke="#8a8a8a" stroke-width="1"/>
<line x1="391.3" y1="374.7" x2="391.3" y2="474.0" stroke="#9a9a9a" stroke-width="1"/>
<line x1="292.5" y1="374.7" x2="292.5" y2="474.0" stroke="#6a6a6a" stroke-width="1"/>
<line x1="290.7" y1="380.4" x2="292.5" y2="380.4" stroke="#6a6a6a" stroke-width="0.8"/>
<text x="289.9" y="381.7" font-size="7.5" font-weight="bold" text-anchor="end" fill="#000" >100</text>
<line x1="290.7" y1="399.41999999999996" x2="292.5" y2="399.41999999999996" stroke="#6a6a6a" stroke-width="0.8"/>
<text x="289.9" y="400.71999999999997" font-size="7.5" font-weight="bold" text-anchor="end" fill="#000" >80</text>
<line x1="290.7" y1="418.44" x2="292.5" y2="418.44" stroke="#6a6a6a" stroke-width="0.8"/>
<text x="289.9" y="419.74" font-size="7.5" font-weight="bold" text-anchor="end" fill="#000" >60</text>
<line x1="290.7" y1="437.46" x2="292.5" y2="437.46" stroke="#6a6a6a" stroke-width="0.8"/>
<text x="289.9" y="438.76" font-size="7.5" font-weight="bold" text-anchor="end" fill="#000" >40</text>
<line x1="290.7" y1="456.48" x2="292.5" y2="456.48" stroke="#6a6a6a" stroke-width="0.8"/>
<text x="289.9" y="457.78000000000003" font-size="7.5" font-weight="bold" text-anchor="end" fill="#000" >20</text>
<text x="299.5" y="489.7" font-size="7.2" font-weight="bold" text-anchor="start" fill="#000" >10</text>
<text x="308.8" y="484.5" font-size="6.6" font-weight="bold" text-anchor="start" fill="#000" >1</text>
<text x="317.5" y="489.7" font-size="7.2" font-weight="bold" text-anchor="start" fill="#000" >10</text>
<text x="326.8" y="484.5" font-size="6.6" font-weight="bold" text-anchor="start" fill="#000" >2</text>
<text x="334.8" y="489.7" font-size="7.2" font-weight="bold" text-anchor="start" fill="#000" >10</text>
<text x="344.1" y="484.5" font-size="6.6" font-weight="bold" text-anchor="start" fill="#000" >3</text>
<text x="353.0" y="489.7" font-size="7.2" font-weight="bold" text-anchor="start" fill="#000" >10</text>
<text x="362.3" y="484.5" font-size="6.6" font-weight="bold" text-anchor="start" fill="#000" >4</text>
<text x="370.4" y="489.7" font-size="7.2" font-weight="bold" text-anchor="start" fill="#000" >10</text>
<text x="379.7" y="484.5" font-size="6.6" font-weight="bold" text-anchor="start" fill="#000" >5</text>
<line x1="415.2" y1="374.6" x2="514.1" y2="374.6" stroke="#8a8a8a" stroke-width="1"/>
<line x1="514.1" y1="374.1" x2="514.1" y2="473.5" stroke="#9a9a9a" stroke-width="1"/>
<line x1="415.2" y1="374.1" x2="415.2" y2="473.5" stroke="#6a6a6a" stroke-width="1"/>
<line x1="413.4" y1="379.3" x2="415.2" y2="379.3" stroke="#6a6a6a" stroke-width="0.8"/>
<text x="412.6" y="380.6" font-size="7.5" font-weight="bold" text-anchor="end" fill="#000" >100</text>
<line x1="413.4" y1="398.32" x2="415.2" y2="398.32" stroke="#6a6a6a" stroke-width="0.8"/>
<text x="412.6" y="399.62" font-size="7.5" font-weight="bold" text-anchor="end" fill="#000" >80</text>
<line x1="413.4" y1="417.34" x2="415.2" y2="417.34" stroke="#6a6a6a" stroke-width="0.8"/>
<text x="412.6" y="418.64" font-size="7.5" font-weight="bold" text-anchor="end" fill="#000" >60</text>
<line x1="413.4" y1="436.36" x2="415.2" y2="436.36" stroke="#6a6a6a" stroke-width="0.8"/>
<text x="412.6" y="437.66" font-size="7.5" font-weight="bold" text-anchor="end" fill="#000" >40</text>
<line x1="413.4" y1="455.38" x2="415.2" y2="455.38" stroke="#6a6a6a" stroke-width="0.8"/>
<text x="412.6" y="456.68" font-size="7.5" font-weight="bold" text-anchor="end" fill="#000" >20</text>
<text x="422.2" y="489.5" font-size="7.2" font-weight="bold" text-anchor="start" fill="#000" >10</text>
<text x="431.5" y="484.3" font-size="6.6" font-weight="bold" text-anchor="start" fill="#000" >1</text>
<text x="440.2" y="489.5" font-size="7.2" font-weight="bold" text-anchor="start" fill="#000" >10</text>
<text x="449.5" y="484.3" font-size="6.6" font-weight="bold" text-anchor="start" fill="#000" >2</text>
<text x="457.5" y="489.5" font-size="7.2" font-weight="bold" text-anchor="start" fill="#000" >10</text>
<text x="466.8" y="484.3" font-size="6.6" font-weight="bold" text-anchor="start" fill="#000" >3</text>
<text x="475.7" y="489.5" font-size="7.2" font-weight="bold" text-anchor="start" fill="#000" >10</text>
<text x="485.0" y="484.3" font-size="6.6" font-weight="bold" text-anchor="start" fill="#000" >4</text>
<text x="493.1" y="489.5" font-size="7.2" font-weight="bold" text-anchor="start" fill="#000" >10</text>
<text x="502.40000000000003" y="484.3" font-size="6.6" font-weight="bold" text-anchor="start" fill="#000" >5</text>
<line x1="293.4" y1="495.8" x2="392.9" y2="495.8" stroke="#8a8a8a" stroke-width="1"/>
<line x1="392.9" y1="495.3" x2="392.9" y2="594.6" stroke="#9a9a9a" stroke-width="1"/>
<line x1="293.4" y1="495.3" x2="293.4" y2="594.6" stroke="#6a6a6a" stroke-width="1"/>
<line x1="291.59999999999997" y1="501.4" x2="293.4" y2="501.4" stroke="#6a6a6a" stroke-width="0.8"/>
<text x="290.8" y="502.7" font-size="7.5" font-weight="bold" text-anchor="end" fill="#000" >100</text>
<line x1="291.59999999999997" y1="520.42" x2="293.4" y2="520.42" stroke="#6a6a6a" stroke-width="0.8"/>
<text x="290.8" y="521.7199999999999" font-size="7.5" font-weight="bold" text-anchor="end" fill="#000" >80</text>
<line x1="291.59999999999997" y1="539.4399999999999" x2="293.4" y2="539.4399999999999" stroke="#6a6a6a" stroke-width="0.8"/>
<text x="290.8" y="540.7399999999999" font-size="7.5" font-weight="bold" text-anchor="end" fill="#000" >60</text>
<line x1="291.59999999999997" y1="558.46" x2="293.4" y2="558.46" stroke="#6a6a6a" stroke-width="0.8"/>
<text x="290.8" y="559.76" font-size="7.5" font-weight="bold" text-anchor="end" fill="#000" >40</text>
<line x1="291.59999999999997" y1="577.48" x2="293.4" y2="577.48" stroke="#6a6a6a" stroke-width="0.8"/>
<text x="290.8" y="578.78" font-size="7.5" font-weight="bold" text-anchor="end" fill="#000" >20</text>
<text x="300.4" y="610.2" font-size="7.2" font-weight="bold" text-anchor="start" fill="#000" >10</text>
<text x="309.7" y="605.0" font-size="6.6" font-weight="bold" text-anchor="start" fill="#000" >1</text>
<text x="318.4" y="610.2" font-size="7.2" font-weight="bold" text-anchor="start" fill="#000" >10</text>
<text x="327.7" y="605.0" font-size="6.6" font-weight="bold" text-anchor="start" fill="#000" >2</text>
<text x="335.7" y="610.2" font-size="7.2" font-weight="bold" text-anchor="start" fill="#000" >10</text>
<text x="345.0" y="605.0" font-size="6.6" font-weight="bold" text-anchor="start" fill="#000" >3</text>
<text x="353.9" y="610.2" font-size="7.2" font-weight="bold" text-anchor="start" fill="#000" >10</text>
<text x="363.2" y="605.0" font-size="6.6" font-weight="bold" text-anchor="start" fill="#000" >4</text>
<text x="371.29999999999995" y="610.2" font-size="7.2" font-weight="bold" text-anchor="start" fill="#000" >10</text>
<text x="380.59999999999997" y="605.0" font-size="6.6" font-weight="bold" text-anchor="start" fill="#000" >5</text>
<line x1="415.2" y1="496.3" x2="514.6" y2="496.3" stroke="#8a8a8a" stroke-width="1"/>
<line x1="514.6" y1="495.8" x2="514.6" y2="594.7" stroke="#9a9a9a" stroke-width="1"/>
<line x1="415.2" y1="495.8" x2="415.2" y2="594.7" stroke="#6a6a6a" stroke-width="1"/>
<line x1="413.4" y1="501.2" x2="415.2" y2="501.2" stroke="#6a6a6a" stroke-width="0.8"/>
<text x="412.6" y="502.5" font-size="7.5" font-weight="bold" text-anchor="end" fill="#000" >100</text>
<line x1="413.4" y1="520.22" x2="415.2" y2="520.22" stroke="#6a6a6a" stroke-width="0.8"/>
<text x="412.6" y="521.52" font-size="7.5" font-weight="bold" text-anchor="end" fill="#000" >80</text>
<line x1="413.4" y1="539.24" x2="415.2" y2="539.24" stroke="#6a6a6a" stroke-width="0.8"/>
<text x="412.6" y="540.54" font-size="7.5" font-weight="bold" text-anchor="end" fill="#000" >60</text>
<line x1="413.4" y1="558.26" x2="415.2" y2="558.26" stroke="#6a6a6a" stroke-width="0.8"/>
<text x="412.6" y="559.56" font-size="7.5" font-weight="bold" text-anchor="end" fill="#000" >40</text>
<line x1="413.4" y1="577.28" x2="415.2" y2="577.28" stroke="#6a6a6a" stroke-width="0.8"/>
<text x="412.6" y="578.5799999999999" font-size="7.5" font-weight="bold" text-anchor="end" fill="#000" >20</text>
<text x="422.2" y="610.2" font-size="7.2" font-weight="bold" text-anchor="start" fill="#000" >10</text>
<text x="431.5" y="605.0" font-size="6.6" font-weight="bold" text-anchor="start" fill="#000" >1</text>
<text x="440.2" y="610.2" font-size="7.2" font-weight="bold" text-anchor="start" fill="#000" >10</text>
<text x="449.5" y="605.0" font-size="6.6" font-weight="bold" text-anchor="start" fill="#000" >2</text>
<text x="457.5" y="610.2" font-size="7.2" font-weight="bold" text-anchor="start" fill="#000" >10</text>
<text x="466.8" y="605.0" font-size="6.6" font-weight="bold" text-anchor="start" fill="#000" >3</text>
<text x="475.7" y="610.2" font-size="7.2" font-weight="bold" text-anchor="start" fill="#000" >10</text>
<text x="485.0" y="605.0" font-size="6.6" font-weight="bold" text-anchor="start" fill="#000" >4</text>
<text x="493.1" y="610.2" font-size="7.2" font-weight="bold" text-anchor="start" fill="#000" >10</text>
<text x="502.40000000000003" y="605.0" font-size="6.6" font-weight="bold" text-anchor="start" fill="#000" >5</text>
<polygon points="293.00,474.00 294.80,474.00 295.80,464.20 298.90,454.90 302.00,447.20 305.10,436.50 307.40,422.60 308.20,418.80 310.50,418.00 312.00,410.30 314.30,399.50 315.80,392.60 317.40,394.90 318.90,405.70 320.50,416.50 322.00,428.80 323.50,436.50 325.10,444.20 326.60,453.40 328.20,461.10 329.70,468.80 331.20,472.60 332.00,474.00 332.00,474.00" fill="#808080" stroke="none" stroke-width="0"/>
<polyline points="293.50,474.00 319.70,473.40 321.20,467.20 322.80,461.10 324.30,451.80 325.80,442.60 327.40,433.40 328.90,418.00 329.70,408.80 331.20,402.60 332.30,399.50 333.20,401.80 333.80,394.90 335.10,396.50 336.60,391.10 338.20,388.00 339.70,391.80 340.50,390.30 341.50,394.90 343.10,404.20 344.60,408.80 346.20,408.00 347.70,396.50 348.90,388.80 349.70,384.90 350.50,390.30 351.20,393.40 352.00,392.60 353.10,398.00 354.60,408.80 356.20,421.10 357.70,428.80 359.20,434.90 360.80,441.10 363.10,448.80 365.40,456.50 367.70,465.70 370.00,471.80 371.50,474.00 390.30,474.00" fill="none" stroke="#1b5e1b" stroke-width="1.9" stroke-linejoin="round"/>
<polyline points="293.50,474.00 322.80,474.00 325.10,468.80 326.60,464.20 328.90,453.40 331.20,441.10 332.80,431.10 335.10,430.30 336.60,427.20 337.40,423.40 338.90,427.20 340.50,419.50 341.50,416.50 343.10,421.10 345.40,427.20 346.90,419.50 348.50,416.50 350.00,411.80 351.10,416.50 352.30,407.20 353.80,399.50 354.90,395.70 355.80,398.00 356.90,408.80 358.50,418.00 360.00,428.80 362.30,439.50 364.60,447.20 366.90,458.00 369.20,467.20 371.50,472.60 373.10,474.00 390.30,474.00" fill="none" stroke="#1818d8" stroke-width="1.9" stroke-linejoin="round"/>
<polyline points="293.50,474.00 331.20,474.00 333.50,464.20 335.80,461.10 337.40,456.50 339.70,450.30 340.00,451.80 341.50,445.70 343.10,448.80 344.60,439.50 346.90,431.80 348.50,428.80 350.80,424.90 353.10,424.20 354.60,418.00 356.20,405.70 357.20,410.30 358.50,414.90 360.00,418.00 361.50,422.60 362.80,421.10 363.80,424.20 364.90,430.30 366.20,439.50 367.70,448.80 370.00,456.50 372.30,464.20 374.60,469.50 376.90,473.40 378.50,474.00 390.30,474.00" fill="none" stroke="#e41e1e" stroke-width="1.9" stroke-linejoin="round"/>
<line x1="292.0" y1="474.3" x2="391.8" y2="474.3" stroke="#3a1212" stroke-width="1.4"/>
<polygon points="415.70,473.40 420.20,472.60 423.20,468.80 426.30,464.20 429.40,458.00 432.50,450.30 435.50,439.50 437.80,428.80 439.40,418.00 440.90,411.80 442.50,408.80 444.80,406.50 446.30,405.70 448.20,408.80 450.20,412.60 452.50,419.50 454.00,425.70 455.50,433.40 457.10,442.60 458.60,451.80 460.20,458.00 462.50,462.60 464.00,464.20 466.20,470.30 469.20,472.60 471.50,473.40 471.50,473.40" fill="#808080" stroke="none" stroke-width="0"/>
<polyline points="416.20,473.40 416.30,472.60 420.20,468.80 424.00,463.40 427.80,457.20 430.20,454.90 431.70,448.80 434.00,437.20 435.50,434.90 437.10,427.20 438.30,419.50 439.40,411.80 440.90,403.40 442.50,398.80 443.50,400.30 444.50,392.60 446.00,394.20 447.80,388.80 449.40,388.50 451.70,389.50 453.20,397.20 454.80,398.80 456.30,403.40 457.50,404.20 458.60,408.80 460.20,415.70 461.70,410.30 462.80,408.80 463.80,414.90 464.90,408.80 465.80,403.40 466.90,407.20 468.00,414.90 468.90,419.50 470.00,413.40 471.10,408.00 472.30,412.60 473.80,415.70 475.40,421.10 476.90,431.80 478.50,444.20 480.80,450.30 483.10,459.50 485.40,467.20 487.40,471.80 488.50,473.40 513.10,473.40" fill="none" stroke="#1b5e1b" stroke-width="1.9" stroke-linejoin="round"/>
<polyline points="416.20,473.40 417.10,472.60 420.90,468.80 424.80,464.20 428.60,458.00 430.90,454.90 433.20,451.80 435.50,439.50 437.80,430.30 440.20,422.60 441.70,413.40 443.20,408.80 444.80,404.90 446.30,401.10 447.40,396.50 448.60,404.20 449.70,406.50 450.90,404.90 452.50,408.80 454.00,417.20 455.20,418.80 456.80,408.80 458.30,408.00 459.40,413.40 460.90,418.00 462.50,414.90 463.80,417.20 466.20,417.20 468.00,418.80 469.20,422.60 470.50,414.90 471.50,408.00 472.60,411.80 474.60,418.00 476.90,428.80 479.20,439.50 481.50,448.80 483.80,458.00 486.20,465.70 488.50,471.10 490.00,473.40 513.10,473.40" fill="none" stroke="#1818d8" stroke-width="1.9" stroke-linejoin="round"/>
<polyline points="416.20,473.40 437.10,473.40 439.40,471.10 442.50,469.50 445.50,468.00 447.80,465.70 450.20,463.40 451.70,458.00 453.20,448.80 454.80,445.70 456.30,442.60 457.80,439.50 459.40,444.20 460.90,439.50 461.50,433.40 463.10,425.70 464.60,424.20 466.90,424.20 468.50,421.10 470.00,416.50 472.30,408.80 473.50,401.10 474.60,395.70 475.80,401.10 476.60,408.80 478.20,414.90 479.70,415.70 480.80,417.20 481.80,424.20 483.10,436.50 484.60,445.70 486.50,454.90 488.50,462.60 490.00,467.20 491.50,471.10 492.60,473.40 513.10,473.40" fill="none" stroke="#e41e1e" stroke-width="1.9" stroke-linejoin="round"/>
<line x1="414.7" y1="473.7" x2="514.6" y2="473.7" stroke="#3a1212" stroke-width="1.4"/>
<polygon points="293.90,594.20 294.30,593.20 298.20,587.80 301.20,583.20 304.30,577.00 306.60,570.80 308.90,564.70 310.50,558.50 312.00,552.40 313.50,544.70 315.10,537.00 316.60,527.80 318.20,520.10 319.70,513.90 320.50,510.80 321.20,507.00 322.00,512.40 322.80,517.00 324.30,527.80 325.80,538.50 327.40,547.80 328.90,555.50 330.50,563.20 332.00,569.30 333.50,573.90 335.80,580.10 338.20,584.70 340.00,583.90 342.30,588.50 344.60,591.60 347.70,593.20 350.80,594.00 350.80,594.20" fill="#808080" stroke="none" stroke-width="0"/>
<polyline points="294.40,594.20 294.30,593.20 298.20,589.30 302.80,584.70 305.80,580.10 308.90,573.90 311.20,566.20 313.50,558.50 315.10,550.80 316.60,543.20 318.20,535.50 319.70,524.70 321.20,517.00 322.80,510.80 324.30,506.20 325.40,503.20 326.60,507.80 327.70,515.50 328.90,527.80 330.20,540.10 331.20,550.80 332.80,557.00 334.30,560.10 335.80,563.20 337.40,562.40 338.90,564.70 340.50,567.00 341.50,569.30 343.80,573.90 346.20,578.50 348.50,583.20 350.80,587.80 353.80,591.60 356.90,593.60 391.90,594.20" fill="none" stroke="#1b5e1b" stroke-width="1.9" stroke-linejoin="round"/>
<polyline points="294.40,594.20 294.30,593.60 299.70,590.80 304.30,587.80 308.20,583.20 311.20,580.80 313.50,575.50 315.80,567.80 318.20,561.60 320.50,553.90 322.80,546.20 324.30,538.50 326.20,530.80 327.30,531.60 328.50,524.70 329.60,518.50 330.60,515.80 331.50,519.30 332.50,523.20 333.50,530.80 334.80,541.60 336.30,550.80 338.20,553.20 340.00,555.50 341.50,556.20 343.10,561.60 344.60,558.50 346.20,561.60 348.50,569.30 350.80,573.90 353.10,577.00 355.40,584.70 357.70,589.30 360.00,592.40 363.10,593.90 391.90,594.20" fill="none" stroke="#1818d8" stroke-width="1.9" stroke-linejoin="round"/>
<polyline points="294.40,594.20 294.30,593.90 301.20,593.60 307.40,591.60 312.00,587.80 315.10,584.70 318.20,582.40 320.50,578.50 322.80,572.40 325.10,564.70 327.40,558.50 328.90,550.80 330.50,540.10 332.70,527.00 334.20,523.20 335.40,514.70 336.50,508.50 337.30,505.80 338.10,508.50 338.80,513.20 340.40,517.00 341.50,513.90 342.90,511.20 343.80,514.70 345.00,520.80 346.50,520.10 348.80,519.30 350.40,519.70 351.50,525.50 353.10,531.60 354.20,536.20 355.40,540.10 356.90,547.80 358.20,553.90 359.70,557.00 360.80,563.20 362.30,570.80 363.80,575.50 365.40,580.80 367.40,584.70 369.20,589.30 371.50,592.70 373.80,593.90 391.90,594.20" fill="none" stroke="#e41e1e" stroke-width="1.9" stroke-linejoin="round"/>
<line x1="292.9" y1="594.5" x2="393.4" y2="594.5" stroke="#3a1212" stroke-width="1.4"/>
<polygon points="415.70,594.20 416.30,593.20 420.20,586.20 423.20,580.10 426.30,572.40 428.60,563.20 430.20,561.60 431.70,553.90 433.20,543.20 434.80,535.50 436.30,521.60 437.40,512.40 438.30,510.80 439.10,515.50 440.20,510.80 441.40,513.90 442.50,521.60 444.00,533.90 445.50,546.20 447.10,558.50 448.60,567.80 450.90,577.00 453.20,583.20 455.50,587.00 458.60,589.30 461.70,590.80 464.00,592.40 466.00,593.40 469.20,594.00 469.20,594.20" fill="#808080" stroke="none" stroke-width="0"/>
<polyline points="416.20,594.20 415.50,591.60 418.60,587.80 421.70,583.20 424.80,578.50 427.80,573.90 430.90,564.70 433.20,557.00 435.50,546.20 437.10,538.50 438.60,530.80 440.20,521.60 441.70,515.50 443.20,509.30 444.50,504.70 445.50,502.80 447.10,506.20 448.60,512.40 450.20,520.10 451.70,530.80 453.20,537.00 454.80,544.70 456.30,549.30 457.80,550.10 459.40,549.30 460.90,552.40 462.50,555.50 464.00,561.60 464.60,564.70 466.20,569.30 467.70,577.00 469.20,582.40 471.50,587.80 473.80,591.60 476.90,593.60 513.60,594.20" fill="none" stroke="#1b5e1b" stroke-width="1.9" stroke-linejoin="round"/>
<polyline points="416.20,594.20 415.50,593.20 420.20,590.10 424.80,586.20 427.80,580.80 430.90,573.90 434.00,566.20 437.10,557.00 439.40,549.30 440.90,543.20 442.50,540.10 444.00,535.50 445.50,532.40 447.10,529.30 449.10,527.80 450.90,521.60 452.20,513.90 453.20,512.40 454.30,520.10 455.50,530.80 457.10,535.50 459.40,537.80 461.70,539.30 462.30,540.80 463.80,538.50 465.40,542.40 466.20,544.70 467.40,542.40 468.50,544.70 470.00,552.40 471.50,560.10 473.10,566.20 474.60,573.90 476.20,581.60 478.50,587.80 480.80,591.60 483.80,593.60 513.60,594.20" fill="none" stroke="#1818d8" stroke-width="1.9" stroke-linejoin="round"/>
<polyline points="416.20,594.20 415.50,594.00 421.70,593.20 426.30,591.60 430.90,589.30 435.50,586.20 439.40,582.40 442.50,577.00 444.80,570.80 446.30,564.70 447.80,558.50 449.10,553.90 450.60,558.50 451.70,552.40 453.20,544.70 454.80,538.50 455.80,532.40 457.10,527.00 458.60,530.80 460.20,526.20 461.50,524.70 463.10,523.20 464.60,521.60 465.80,523.20 466.90,519.30 468.00,517.80 469.20,518.50 470.00,521.60 471.10,525.50 472.30,526.20 473.50,532.40 474.60,537.00 476.20,543.20 477.70,550.80 479.20,558.50 480.80,563.20 482.30,570.80 483.80,580.10 485.40,583.20 487.70,587.80 490.00,592.10 492.30,593.60 513.60,594.20" fill="none" stroke="#e41e1e" stroke-width="1.9" stroke-linejoin="round"/>
<line x1="414.7" y1="594.5" x2="515.1" y2="594.5" stroke="#3a1212" stroke-width="1.4"/>
<text transform="translate(265.5,421.3) rotate(-90)" font-size="12.4" font-weight="bold" text-anchor="middle" fill="#000" >CB-MKs</text>
<text transform="translate(266.0,525.8) rotate(-90)" font-size="12.4" font-weight="bold" text-anchor="middle" fill="#000" >PB-MKs</text>
<text transform="translate(278.6,576.5) rotate(-90)" font-size="12.5" font-weight="normal" text-anchor="middle" fill="#000" >Cells</text>
<line x1="274.2" y1="622.6" x2="274.2" y2="602" stroke="#000" stroke-width="1.6"/>
<polygon points="274.20,591.80 278.10,606.30 274.20,605.10 270.30,606.30" fill="#000" stroke="none" stroke-width="0"/>
<line x1="273.4" y1="621.8" x2="293" y2="621.8" stroke="#000" stroke-width="1.6"/>
<polygon points="304.80,621.80 290.40,625.50 291.60,621.80 290.40,618.10" fill="#000" stroke="none" stroke-width="0"/>
<text x="306.1" y="625.4" font-size="10.4" font-weight="normal" text-anchor="start" fill="#000" >CD42b</text>
<text x="324.4" y="645" font-size="12.5" font-weight="bold" text-anchor="start" fill="#000" >DMSO</text>
<text x="432.6" y="643.4" font-size="12.5" font-weight="bold" text-anchor="start" fill="#000" >Rapamycin</text>
<line x1="466.8" y1="328.1" x2="493.7" y2="328.1" stroke="#1b5e1b" stroke-width="2.0"/>
<text x="500.4" y="333.2" font-size="10" font-weight="bold" text-anchor="start" fill="#1b4a1b" >2N</text>
<line x1="466.8" y1="343.5" x2="493.7" y2="343.5" stroke="#1818d8" stroke-width="2.0"/>
<text x="500.4" y="348.0" font-size="10" font-weight="bold" text-anchor="start" fill="#1a1ad0" >4N</text>
<line x1="466.8" y1="357.0" x2="493.7" y2="357.0" stroke="#e41e1e" stroke-width="2.0"/>
<text x="500.4" y="360.1" font-size="10" font-weight="bold" text-anchor="start" fill="#d82020" >8N</text>
</svg>
</body></html>
